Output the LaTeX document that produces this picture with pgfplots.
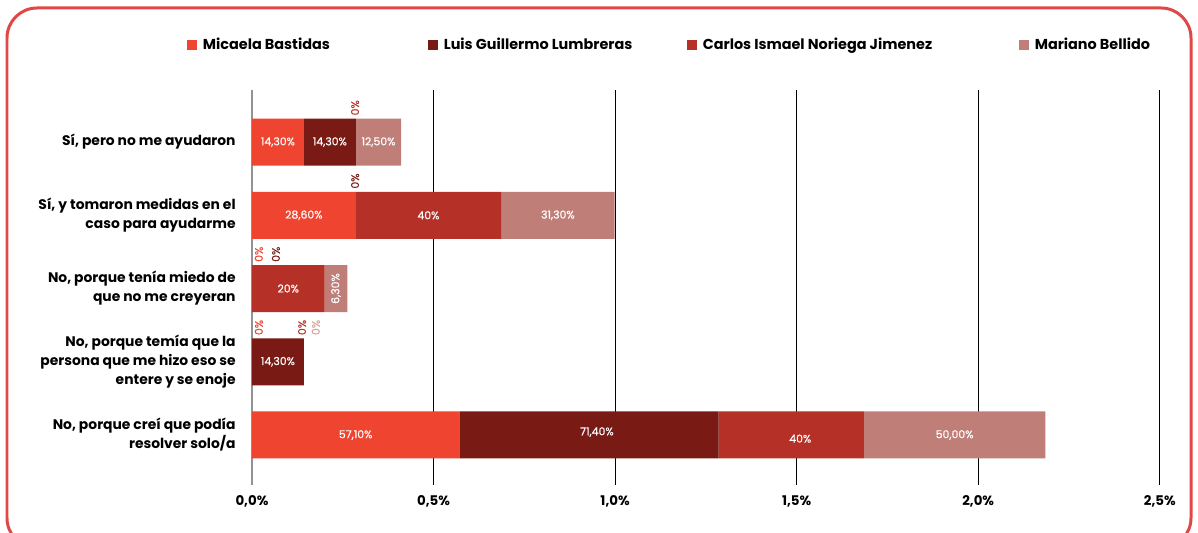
\documentclass[border=0pt]{standalone}
\usepackage{pgfplots}
\pgfplotsset{compat=1.18}
\usepackage{fontspec}
\setmainfont{Poppins}
\definecolor{cMic}{HTML}{EE4430}
\definecolor{cLuis}{HTML}{791A15}
\definecolor{cCar}{HTML}{B53127}
\definecolor{cMar}{HTML}{C07E79}
\definecolor{cMarT}{HTML}{D4A29E}
\definecolor{cBorder}{HTML}{E04848}
\newcommand{\lblfont}{\bfseries\fontsize{7.9}{10.8}\selectfont}
\newcommand{\tckfont}{\bfseries\fontsize{7.6}{10.8}\selectfont}
\newcommand{\legfont}{\bfseries\fontsize{8.2}{10.8}\selectfont}
\newcommand{\valfont}{\fontsize{6.2}{7}\selectfont\addfontfeature{FakeBold=0.6}}
\begin{document}
\begin{tikzpicture}[x=0.02cm,y=0.02cm]
\useasboundingbox (0,0) rectangle (1198,533);
\begin{scope}
\clip (0,0) rectangle (1198,533);
\draw[cBorder, line width=0.06cm, rounded corners=0.6cm] (7,525) rectangle (1191,-15);
\end{scope}
\pgfplotsset{
  commonax/.style={
    at={(5.04cm,0.96cm)}, anchor=south west, scale only axis,
    width=18.16cm, height=7.9cm,
    xmin=0, xmax=2.5, ymin=-0.683, ymax=4.71,
  }
}
\begin{axis}[commonax,
  xbar stacked, bar width=0.94cm,
  xtick={0,0.5,1,1.5,2,2.5},
  xticklabels={{0,0\%},{0,5\%},{1,0\%},{1,5\%},{2,0\%},{2,5\%}},
  ytick={0,1,2,3,4},
  yticklabels={{No, porque creí que podía\\resolver solo/a},
               {No, porque temía que la\\persona que me hizo eso se\\entere y se enoje},
               {No, porque tenía miedo de\\que no me creyeran},
               {Sí, y tomaron medidas en el\\caso para ayudarme},
               {Sí, pero no me ayudaron}},
  yticklabel style={align=right, font=\lblfont, inner sep=0pt, xshift=-0.32cm},
  xticklabel style={font=\tckfont, inner sep=0pt, yshift=-0.2cm},
  major tick length=0pt,
  xmajorgrids, grid style={black, line width=0.5pt},
  axis x line*=bottom, x axis line style={draw=none, -},
  axis y line*=left, y axis line style={-, draw=gray!85, line width=1.1pt},
  legend columns=4,
  legend image code/.code={\fill[#1] (0cm,-0.1cm) rectangle (0.2cm,0.1cm);},
  legend style={draw=none, fill=none, inner sep=0pt, outer sep=0pt,
    anchor=west, at={(-0.0716,1.114)}, font=\legfont,
    nodes={inner sep=0pt},
    /tikz/every odd column/.style={column sep=0.12cm},
    /tikz/every even column/.style={column sep=0pt}},
]
\addplot[fill=cMic, draw=none] coordinates {(0.571,0) (0,1) (0,2) (0.286,3) (0.143,4)};
\addplot[fill=cLuis, draw=none] coordinates {(0.714,0) (0.143,1) (0,2) (0,3) (0.143,4)};
\addplot[fill=cCar, draw=none] coordinates {(0.40,0) (0,1) (0.20,2) (0.40,3) (0,4)};
\addplot[fill=cMar, draw=none] coordinates {(0.50,0) (0,1) (0.063,2) (0.313,3) (0.125,4)};
\addlegendentry{\makebox[4.5cm][l]{Micaela Bastidas}}
\addlegendentry{\makebox[4.86cm][l]{Luis Guillermo Lumbreras}}
\addlegendentry{\makebox[6.32cm][l]{Carlos Ismael Noriega Jimenez}}
\addlegendentry{Mariano Bellido}
\end{axis}
\begin{axis}[commonax, hide axis, clip=false,
  nodes near coords, point meta=explicit symbolic,
  only marks, mark=*, mark size=0pt, mark options={draw=none, fill=none}]
% values inside bars
\addplot[nodes near coords style={anchor=center, text=white, font=\valfont}]
 table[meta=lab] {
x y lab
0.0715 4 14,30\%
0.2145 4 14,30\%
0.3485 4 12,50\%
0.143 3 28,60\%
0.486 3 40\%
0.8425 3 31,30\%
0.100 2 20\%
0.0715 1 14,30\%
0.2855 0 57,10\%
0.95 0.04 71,40\%
1.51 -0.05 40\%
1.935 0 50,00\%
};
\addplot[nodes near coords style={anchor=center, rotate=90, text=white, font=\valfont}]
 table[meta=lab] {
x y lab
0.2315 2 6,30\%
};
% zero labels
\addplot[nodes near coords style={anchor=west, rotate=90, inner sep=0pt, text=cMic, font=\valfont}]
 table[meta=lab] {
x y lab
0.019 2.36 0\%
0.019 1.36 0\%
};
\addplot[nodes near coords style={anchor=west, rotate=90, inner sep=0pt, text=cLuis, font=\valfont}]
 table[meta=lab] {
x y lab
0.284 3.36 0\%
0.066 2.36 0\%
};
\addplot[nodes near coords style={anchor=west, rotate=90, inner sep=0pt, text=cCar, font=\valfont}]
 table[meta=lab] {
x y lab
0.284 4.36 0\%
0.138 1.36 0\%
};
\addplot[nodes near coords style={anchor=west, rotate=90, inner sep=0pt, text=cMarT, font=\valfont}]
 table[meta=lab] {
x y lab
0.176 1.36 0\%
};
\end{axis}
\end{tikzpicture}
\end{document}
